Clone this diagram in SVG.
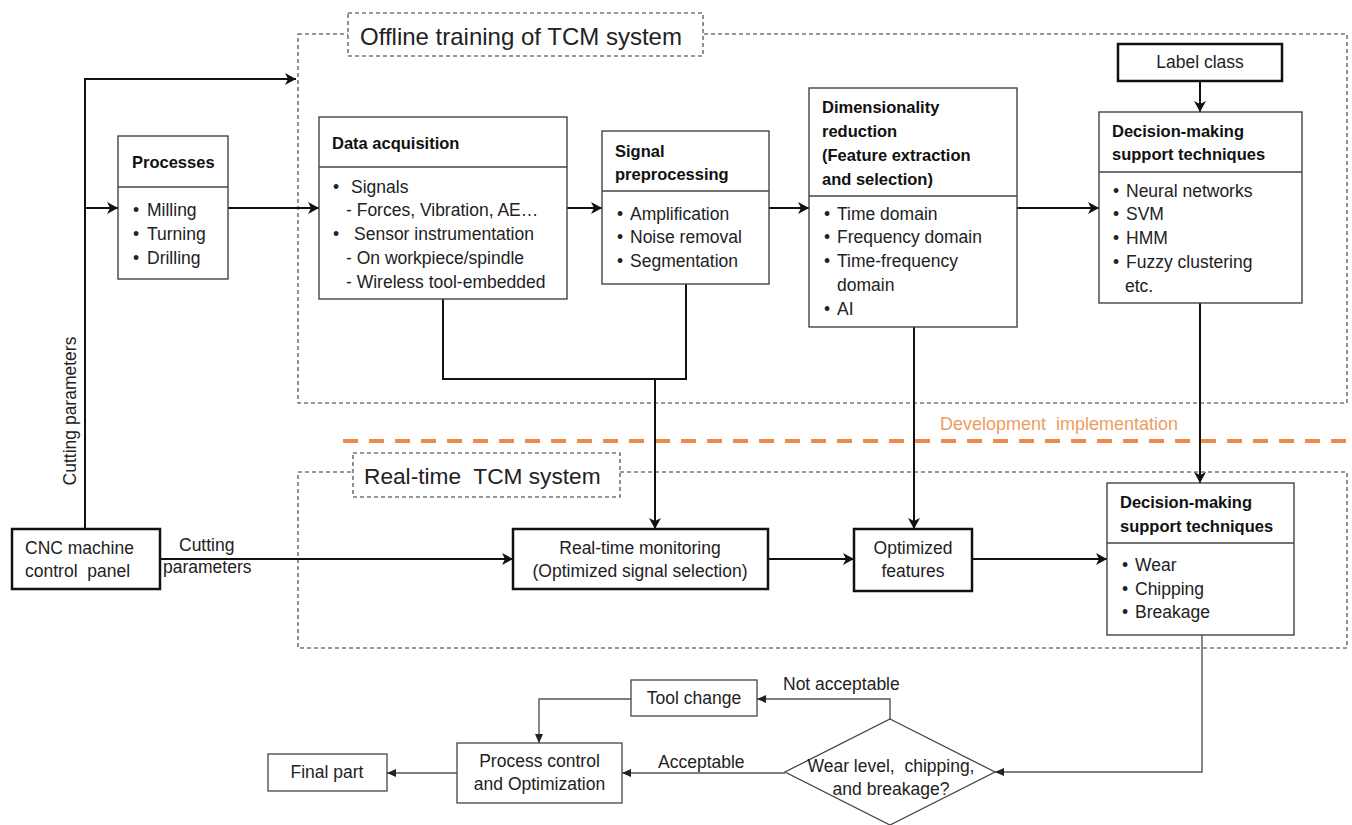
<svg xmlns="http://www.w3.org/2000/svg" width="1352" height="825" viewBox="0 0 1352 825">
<defs>
<style>
text{font-family:"Liberation Sans",Arial,sans-serif;font-size:17.5px;fill:#222}
.b{font-weight:bold;font-size:16.5px;fill:#111}
.c{text-anchor:middle}
.box{fill:#fff;stroke:#444;stroke-width:1.4}
.tbox{fill:#fff;stroke:#111;stroke-width:2.5}
.thin{fill:#fff;stroke:#444;stroke-width:1.3}
.div{stroke:#444;stroke-width:1.4}
.dash{fill:none;stroke:#333;stroke-width:1.1;stroke-dasharray:4 3}
.dashw{fill:#fff;stroke:#333;stroke-width:1.1;stroke-dasharray:4 3}
.con{fill:none;stroke:#111;stroke-width:2}
.tcon{fill:none;stroke:#555;stroke-width:1.4}
</style>
<marker id="arr" markerUnits="userSpaceOnUse" markerWidth="12" markerHeight="12" refX="11" refY="6" orient="auto">
<path d="M0,0 L11,6 L0,12 L3,6 Z" fill="#111"/>
</marker>
<marker id="tri" markerUnits="userSpaceOnUse" markerWidth="10" markerHeight="10" refX="9" refY="4" orient="auto">
<path d="M0,0 L9,4 L0,8 Z" fill="#222"/>
</marker>
</defs>
<rect width="1352" height="825" fill="#fff"/>

<g id="offline-container">
<rect class="dash" x="298" y="34" width="1049" height="369"/>
<rect class="dashw" x="348" y="13" width="355" height="43"/>
<text x="360" y="45" style="font-size:24px">Offline training of TCM system</text>
</g>

<g id="realtime-container">
<rect class="dash" x="298" y="472" width="1049" height="176"/>
<rect class="dashw" x="353" y="453" width="267" height="44"/>
<text x="364" y="484" style="font-size:22.7px">Real-time&#160; TCM system</text>
</g>

<g id="dev-line">
<line x1="343" y1="441" x2="1352" y2="441" stroke="#ED8A4A" stroke-width="4" stroke-dasharray="15 11"/>
<text x="940" y="430" style="fill:#EE9C64;font-size:18px">Development&#160; implementation</text>
</g>

<g id="connectors">
<path class="con" d="M85,529 V79 H296" marker-end="url(#arr)"/>
<path class="con" d="M85,208 H118" marker-end="url(#arr)"/>
<path class="con" d="M228,208 H319" marker-end="url(#arr)"/>
<path class="con" d="M567,208 H602" marker-end="url(#arr)"/>
<path class="con" d="M769,208 H809" marker-end="url(#arr)"/>
<path class="con" d="M1017,208 H1099" marker-end="url(#arr)"/>
<path class="con" d="M1200,81 V112" marker-end="url(#arr)"/>
<path class="con" d="M443,299 V379 H686 V284"/>
<path class="con" d="M655,379 V529" marker-end="url(#arr)"/>
<path class="con" d="M914,327 V529" marker-end="url(#arr)"/>
<path class="con" d="M1200,303 V483" marker-end="url(#arr)"/>
<path class="con" d="M160,559 H513" marker-end="url(#arr)"/>
<path class="con" d="M768,559 H854" marker-end="url(#arr)"/>
<path class="con" d="M972,559 H1107" marker-end="url(#arr)"/>
<path class="tcon" d="M1202,635 V772 H995" marker-end="url(#tri)"/>
<path class="tcon" d="M890,719 V699 H757" marker-end="url(#tri)"/>
<path class="tcon" d="M631,699 H539 V743" marker-end="url(#tri)"/>
<path class="tcon" d="M785,773 H622" marker-end="url(#tri)"/>
<path class="tcon" d="M457,773 H387" marker-end="url(#tri)"/>
<text transform="translate(76,411) rotate(-90)" class="c">Cutting parameters</text>
<text x="179" y="551">Cutting</text>
<text x="163" y="573">parameters</text>
<text x="783" y="690">Not acceptable</text>
<text x="658" y="768">Acceptable</text>
</g>

<g id="processes">
<rect class="box" x="118" y="136" width="110" height="143"/>
<line class="div" x1="118" y1="187" x2="228" y2="187"/>
<text class="b" x="132" y="168">Processes</text>
<text x="133" y="216">•</text><text x="147" y="216">Milling</text>
<text x="133" y="240">•</text><text x="147" y="240">Turning</text>
<text x="133" y="264">•</text><text x="147" y="264">Drilling</text>
</g>

<g id="data-acquisition">
<rect class="box" x="319" y="117" width="248" height="182"/>
<line class="div" x1="319" y1="167" x2="567" y2="167"/>
<text class="b" x="332" y="149">Data acquisition</text>
<text x="333" y="193">•</text><text x="351" y="193">Signals</text>
<text x="346" y="216">- Forces, Vibration, AE…</text>
<text x="333" y="240">•</text><text x="354" y="240">Sensor instrumentation</text>
<text x="346" y="264">- On workpiece/spindle</text>
<text x="346" y="288">- Wireless tool-embedded</text>
</g>

<g id="signal-preprocessing">
<rect class="box" x="602" y="131" width="167" height="153"/>
<line class="div" x1="602" y1="191" x2="769" y2="191"/>
<text class="b" x="615" y="157">Signal</text>
<text class="b" x="615" y="180">preprocessing</text>
<text x="617" y="220">•</text><text x="630" y="220">Amplification</text>
<text x="617" y="243">•</text><text x="630" y="243">Noise removal</text>
<text x="617" y="267">•</text><text x="630" y="267">Segmentation</text>
</g>

<g id="dimensionality">
<rect class="box" x="809" y="88" width="208" height="239"/>
<line class="div" x1="809" y1="196" x2="1017" y2="196"/>
<text class="b" x="822" y="113">Dimensionality</text>
<text class="b" x="822" y="137">reduction</text>
<text class="b" x="822" y="161">(Feature extraction</text>
<text class="b" x="822" y="185">and selection)</text>
<text x="824" y="220">•</text><text x="837" y="220">Time domain</text>
<text x="824" y="243">•</text><text x="837" y="243">Frequency domain</text>
<text x="824" y="267">•</text><text x="837" y="267">Time-frequency</text>
<text x="837" y="291">domain</text>
<text x="824" y="315">•</text><text x="837" y="315">AI</text>
</g>

<g id="label-class">
<rect class="tbox" x="1118" y="44" width="164" height="37"/>
<text class="c" x="1200" y="68">Label class</text>
</g>

<g id="decision-offline">
<rect class="box" x="1099" y="112" width="203" height="191"/>
<line class="div" x1="1099" y1="172" x2="1302" y2="172"/>
<text class="b" x="1112" y="137">Decision-making</text>
<text class="b" x="1112" y="160">support techniques</text>
<text x="1113" y="197">•</text><text x="1126" y="197">Neural networks</text>
<text x="1113" y="220">•</text><text x="1126" y="220">SVM</text>
<text x="1113" y="244">•</text><text x="1126" y="244">HMM</text>
<text x="1113" y="268">•</text><text x="1126" y="268">Fuzzy clustering</text>
<text x="1125" y="292">etc.</text>
</g>

<g id="cnc">
<rect class="tbox" x="12" y="529" width="148" height="60"/>
<text x="25" y="554">CNC machine</text>
<text x="25" y="577">control&#160; panel</text>
</g>

<g id="realtime-monitoring">
<rect class="tbox" x="513" y="529" width="255" height="60"/>
<text class="c" x="640" y="554">Real-time monitoring</text>
<text class="c" x="640" y="577">(Optimized signal selection)</text>
</g>

<g id="optimized-features">
<rect class="tbox" x="854" y="529" width="118" height="62"/>
<text class="c" x="913" y="554">Optimized</text>
<text class="c" x="913" y="577">features</text>
</g>

<g id="decision-realtime">
<rect class="box" x="1107" y="483" width="187" height="152"/>
<line class="div" x1="1107" y1="543" x2="1294" y2="543"/>
<text class="b" x="1120" y="508">Decision-making</text>
<text class="b" x="1120" y="532">support techniques</text>
<text x="1122" y="571">•</text><text x="1135" y="571">Wear</text>
<text x="1122" y="595">•</text><text x="1135" y="595">Chipping</text>
<text x="1122" y="618">•</text><text x="1135" y="618">Breakage</text>
</g>

<g id="decision-diamond">
<polygon class="thin" points="890,719 995,772 890,825 785,772"/>
<text class="c" x="891" y="772">Wear level,&#160; chipping,</text>
<text class="c" x="891" y="795">and breakage?</text>
</g>

<g id="tool-change">
<rect class="thin" x="631" y="680" width="126" height="36"/>
<text class="c" x="694" y="704">Tool change</text>
</g>

<g id="process-control">
<rect class="thin" x="457" y="743" width="165" height="60"/>
<text class="c" x="539.5" y="767">Process control</text>
<text class="c" x="539.5" y="790">and Optimization</text>
</g>

<g id="final-part">
<rect class="thin" x="268" y="754" width="119" height="37"/>
<text class="c" x="327" y="778">Final part</text>
</g>
</svg>
